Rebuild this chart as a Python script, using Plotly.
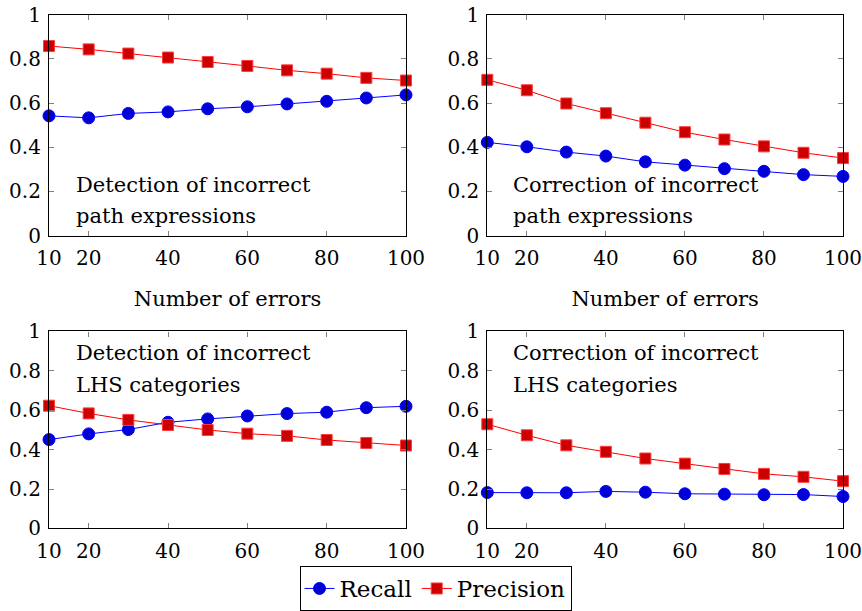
import plotly.graph_objects as go
from plotly.subplots import make_subplots

errors = [10, 20, 30, 40, 50, 60, 70, 80, 90, 100]

det_path_recall = [0.542, 0.533, 0.553, 0.560, 0.574, 0.583, 0.596, 0.608, 0.623, 0.637]
det_path_precision = [0.858, 0.843, 0.824, 0.806, 0.786, 0.768, 0.748, 0.733, 0.714, 0.702]

cor_path_recall = [0.422, 0.402, 0.378, 0.360, 0.334, 0.319, 0.303, 0.291, 0.276, 0.268]
cor_path_precision = [0.705, 0.658, 0.598, 0.554, 0.511, 0.468, 0.435, 0.404, 0.375, 0.351]

det_lhs_recall = [0.451, 0.480, 0.502, 0.539, 0.556, 0.571, 0.583, 0.590, 0.613, 0.620]
det_lhs_precision = [0.623, 0.584, 0.551, 0.525, 0.500, 0.481, 0.470, 0.449, 0.434, 0.421]

cor_lhs_recall = [0.182, 0.181, 0.181, 0.188, 0.184, 0.176, 0.174, 0.171, 0.172, 0.162]
cor_lhs_precision = [0.529, 0.473, 0.422, 0.389, 0.355, 0.329, 0.302, 0.277, 0.262, 0.240]

x_ticks = [10, 20, 40, 60, 80, 100]
y_ticks = [0, 0.2, 0.4, 0.6, 0.8, 1]
y_tick_text = ["0", "0.2", "0.4", "0.6", "0.8", "1"]

panel_titles = [
    ("Detection of incorrect", "path expressions"),
    ("Correction of incorrect", "path expressions"),
    ("Detection of incorrect", "LHS categories"),
    ("Correction of incorrect", "LHS categories"),
]

W, H = 862, 611
FONT = "DejaVu Serif"

fig = make_subplots(rows=2, cols=2)

panels = [
    (1, 1, det_path_recall, det_path_precision),
    (1, 2, cor_path_recall, cor_path_precision),
    (2, 1, det_lhs_recall, det_lhs_precision),
    (2, 2, cor_lhs_recall, cor_lhs_precision),
]

for i, (r, c, rec, prec) in enumerate(panels):
    show = i == 0
    fig.add_trace(go.Scatter(
        x=errors, y=rec, mode="lines+markers", name="Recall",
        line=dict(color="rgb(0,0,255)", width=1),
        marker=dict(symbol="circle", size=12, color="rgb(0,0,215)",
                    line=dict(color="rgb(0,0,255)", width=1)),
        cliponaxis=False, showlegend=show, legendgroup="r"), row=r, col=c)
    fig.add_trace(go.Scatter(
        x=errors, y=prec, mode="lines+markers", name="Precision",
        line=dict(color="rgb(255,0,0)", width=1),
        marker=dict(symbol="square", size=11, color="rgb(204,0,0)",
                    line=dict(color="rgb(255,60,60)", width=1)),
        cliponaxis=False, showlegend=show, legendgroup="p"), row=r, col=c)

def px_x(v):
    return v / W

def px_y(v):
    return (H - v) / H

xdom_left = [px_x(49), px_x(406)]
xdom_right = [px_x(487.3), px_x(843)]
ydom_top = [px_y(236), px_y(14.7)]
ydom_bot = [px_y(529.3), px_y(332)]

axis_common = dict(
    showline=True, linecolor="black", linewidth=1.2, mirror="ticks",
    ticks="inside", ticklen=5, tickcolor="#808080", tickwidth=1,
    showgrid=False, zeroline=False, automargin=False,
    ticklabeloverflow="allow",
    tickfont=dict(family=FONT, size=20, color="black"),
)

for idx, (xd, yd) in enumerate([(xdom_left, ydom_top), (xdom_right, ydom_top),
                                (xdom_left, ydom_bot), (xdom_right, ydom_bot)]):
    n = "" if idx == 0 else str(idx + 1)
    xa = dict(axis_common, domain=xd, range=[10, 100], tickvals=x_ticks,
              ticklabelstandoff=4)
    if idx < 2:
        xa["title"] = dict(text="Number of errors",
                           font=dict(family=FONT, size=21, color="black"),
                           standoff=22)
    ya = dict(axis_common, domain=yd, range=[0, 1], tickvals=y_ticks,
              ticktext=y_tick_text, ticklabelstandoff=3)
    fig.layout["xaxis" + n].update(xa)
    fig.layout["yaxis" + n].update(ya)

ann_pos = [(74, 185, 216), (511, 185, 216), (74, 354, 386), (511, 354, 386)]
annotations = []
for (l1, l2), (xl, y1, y2) in zip(panel_titles, ann_pos):
    for text, yy in ((l1, y1), (l2, y2)):
        annotations.append(dict(
            text=text, x=px_x(xl), y=px_y(yy), xref="paper", yref="paper",
            xanchor="left", yanchor="middle", showarrow=False,
            font=dict(family=FONT, size=21, color="black")))

fig.update_layout(
    width=W, height=H,
    margin=dict(l=0, r=0, t=0, b=0),
    plot_bgcolor="white", paper_bgcolor="white",
    annotations=annotations,
    legend=dict(orientation="h", x=px_x(435.5), xanchor="center",
                y=px_y(567), yanchor="top",
                bordercolor="black", borderwidth=1,
                font=dict(family=FONT, size=23, color="black"),
                itemwidth=30, tracegroupgap=0),
    font=dict(family=FONT),
)

fig.write_html("out.html", config={"displayModeBar": False},
               post_script="document.body.style.margin='0';")
